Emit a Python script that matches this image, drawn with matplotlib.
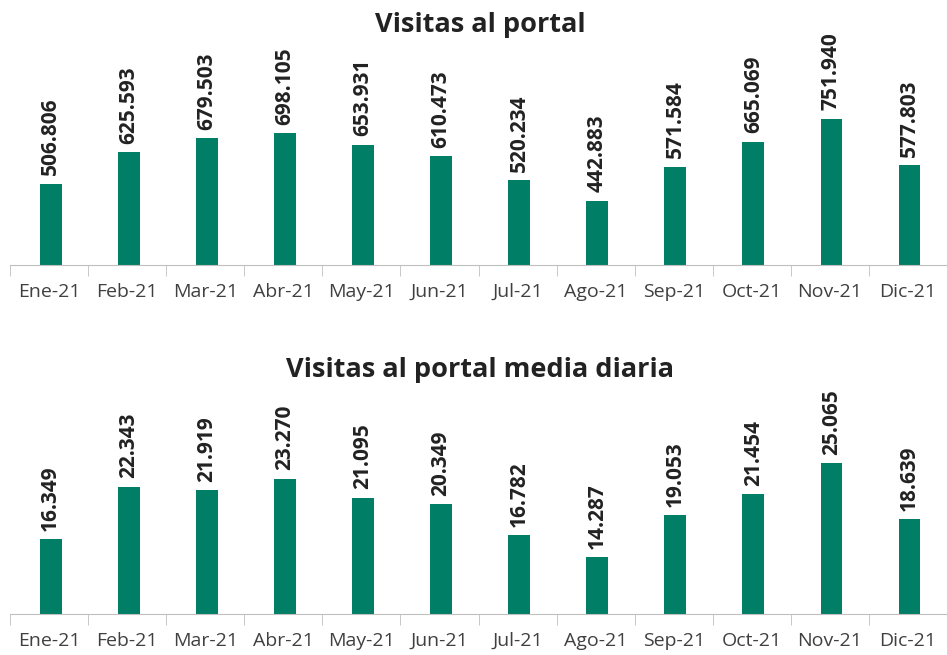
import matplotlib
matplotlib.use("Agg")
from matplotlib import pyplot as plt
import numpy as np

plt.rcParams['font.family'] = ['Open Sans', 'DejaVu Sans']

months = ['Ene-21', 'Feb-21', 'Mar-21', 'Abr-21', 'May-21', 'Jun-21',
          'Jul-21', 'Ago-21', 'Sep-21', 'Oct-21', 'Nov-21', 'Dic-21']
visitas = [506806, 625593, 679503, 698105, 653931, 610473,
           520234, 442883, 571584, 665069, 751940, 577803]
media_diaria = [16349, 22343, 21919, 23270, 21095, 20349,
                16782, 14287, 19053, 21454, 25065, 18639]

green = '#007f66'

fig = plt.figure(figsize=(9.47, 6.55), dpi=100)


def fmt(v):
    # miles con punto
    return '{:,}'.format(v).replace(',', '.')


def panel(rect, values, ylim, title, title_y):
    ax = fig.add_axes(rect)
    x = np.arange(len(months))
    ax.bar(x + 0.02, values, width=0.28, color=green)
    ax.set_xlim(-0.5, len(months) - 0.5)
    ax.set_ylim(*ylim)
    for s in ['top', 'right', 'left']:
        ax.spines[s].set_visible(False)
    ax.spines['bottom'].set_color('#bfbfbf')
    ax.spines['bottom'].set_position(('data', ylim[0]))
    ax.set_yticks([])
    ax.set_xticks(x)
    ax.set_xticklabels(months, fontsize=14, color='#404040')
    ax.tick_params(axis='x', which='major', length=0, pad=13)
    ax.set_xticks(np.arange(-0.5, len(months)), minor=True)
    ax.tick_params(axis='x', which='minor', length=8, color='#bfbfbf')
    for xi, v in zip(x, values):
        ax.annotate(fmt(v), (xi + 0.02, v), xytext=(0, 6), textcoords='offset points',
                    rotation=90, ha='center', va='bottom', fontsize=15,
                    fontweight='bold', color='#222222')
    fig.text(0.507, title_y, title, ha='center', va='center', fontsize=19.5,
             fontweight='bold', color='#222222')
    return ax


panel([10 / 947, 390 / 655, 937 / 947, 212 / 655], visitas,
      (200000, 1000000), 'Visitas al portal', 1 - 25 / 655)
panel([10 / 947, 41 / 655, 937 / 947, 219 / 655], media_diaria,
      (7750, 32850), 'Visitas al portal media diaria', 1 - 370 / 655)

fig.savefig('out.png', dpi=100)
